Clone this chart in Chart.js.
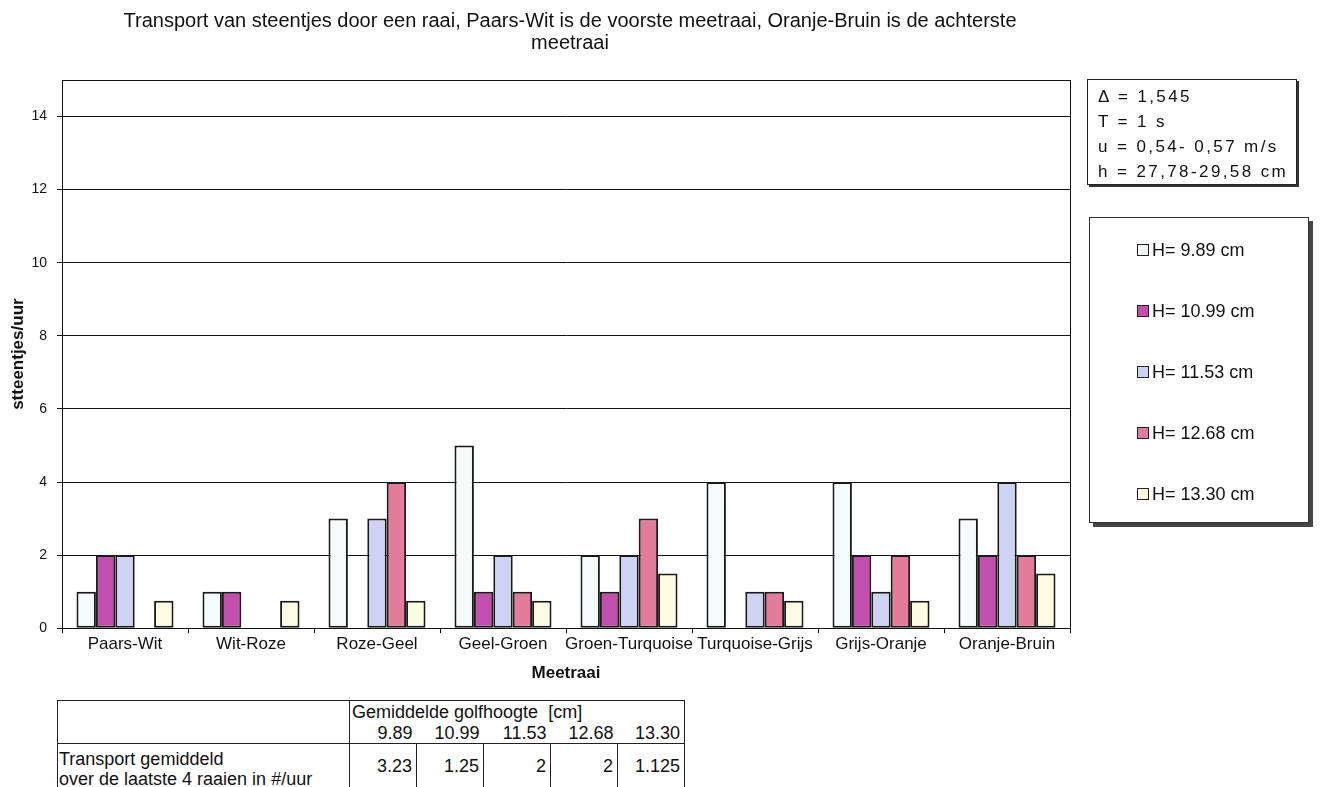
<!DOCTYPE html>
<html lang="nl">
<head>
<meta charset="utf-8">
<title>Transport van steentjes door een raai</title>
<script src="https://cdn.jsdelivr.net/npm/chart.js@4.4.1/dist/chart.umd.min.js"></script>
<style>
  html, body {
    margin: 0;
    padding: 0;
    background: #fff;
    width: 1320px;
    height: 787px;
    overflow: hidden;
    font-family: "Liberation Sans", Arial, sans-serif;
    color: #111;
  }
  #chartTitle {
    position: absolute;
    left: 0;
    top: 9px;
    width: 1140px;
    text-align: center;
    font-size: 20px;
    line-height: 22px;
  }
  #chartWrap {
    position: absolute;
    left: 0;
    top: 0;
    width: 1140px;
    height: 700px;
  }
  #infoBox {
    position: absolute;
    left: 1087px;
    top: 79px;
    width: 198px;
    height: 100px;
    padding: 4px 0 0 10px;
    border: 1px solid #222;
    box-shadow: 2px 2px 0 #333;
    font-size: 17px;
    line-height: 25px;
    letter-spacing: 2.4px;
    white-space: nowrap;
  }
  #legendBox {
    position: absolute;
    left: 1089px;
    top: 217px;
    width: 218px;
    height: 304px;
    border: 1px solid #333;
    box-shadow: 4px 4px 0 #444;
    background: #fff;
  }
  .legend-item {
    position: absolute;
    left: 47px;
    height: 20px;
    display: flex;
    align-items: center;
    font-size: 18px;
    white-space: nowrap;
  }
  .legend-swatch {
    width: 10px;
    height: 10px;
    border: 1.5px solid #222;
    margin-right: 3px;
  }
  #summary {
    position: absolute;
    left: 57px;
    top: 700px;
    border-collapse: collapse;
    font-size: 18px;
    table-layout: fixed;
  }
  #summary td {
    padding: 0 4px 0 2px;
    white-space: nowrap;
    line-height: 20px;
    overflow: hidden;
  }
  #summary .head-label { border: 1px solid #222; }
  #summary .head-title { border-top: 1px solid #222; border-right: 1px solid #222; height: 21px; text-align: left; vertical-align: bottom; }
  #summary .head-val { text-align: right; height: 21px; border-bottom: 1px solid #222; vertical-align: bottom; }
  #summary .head-val.last { border-right: 1px solid #222; }
  #summary .row-label { border: 1px solid #222; height: 45px; vertical-align: top; padding-top: 5px; padding-left: 1px; }
  #summary .row-val { border: 1px solid #222; text-align: right; vertical-align: top; padding-top: 12px; }
</style>
</head>
<body>
<div id="chartWrap"><canvas id="transportChart"></canvas></div>
<div id="chartTitle"></div>
<div id="infoBox"></div>
<div id="legendBox"></div>
<table id="summary"></table>

<script>
// Meetraaien (pairs of coloured markers), front to back
const meetraaien = ['Paars-Wit', 'Wit-Roze', 'Roze-Geel', 'Geel-Groen', 'Groen-Turquoise', 'Turquoise-Grijs', 'Grijs-Oranje', 'Oranje-Bruin'];

// Transport in stones per hour for each wave height (null = no stones counted)
const golf989 = [1, 1, 3, 5, 2, 4, 4, 3];
const golf1099 = [2, 1, null, 1, 1, null, 2, 2];
const golf1153 = [2, null, 3, 2, 2, 1, 1, 4];
const golf1268 = [null, null, 4, 1, 3, 1, 2, 2];
const golf1330 = [0.75, 0.75, 0.75, 0.75, 1.5, 0.75, 0.75, 1.5];

const seriesLabels = ['H= 9.89 cm', 'H= 10.99 cm', 'H= 11.53 cm', 'H= 12.68 cm', 'H= 13.30 cm'];
const seriesColors = ['#f4fbfb', '#c24fae', '#cfd3f3', '#e27c9a', '#fdfbe1'];

const yTicks = [0, 2, 4, 6, 8, 10, 12, 14];
const yMax = 15;

const titleLines = ['Transport van steentjes door een raai, Paars-Wit is de voorste meetraai, Oranje-Bruin is de achterste', 'meetraai'];

// Test conditions shown next to the chart
const conditions = ['\u0394 = 1,545', 'T = 1 s', 'u = 0,54- 0,57 m/s', 'h = 27,78-29,58 cm'];

// Summary table: mean transport over the last 4 meetraaien
const golfhoogtes = ['9.89', '10.99', '11.53', '12.68', '13.30'];
const transportGemiddeld = ['3.23', '1.25', '2', '2', '1.125'];

const FONT = '"Liberation Sans", Arial, sans-serif';

// Draws the box round the plot area
const plotFrame = {
  id: 'plotFrame',
  beforeDatasetsDraw(chart) {
    const { ctx, chartArea } = chart;
    ctx.save();
    ctx.strokeStyle = '#111';
    ctx.lineWidth = 1;
    ctx.strokeRect(Math.round(chartArea.left) + 0.5, Math.round(chartArea.top) + 0.5,
      Math.round(chartArea.right - chartArea.left), Math.round(chartArea.bottom - chartArea.top));
    ctx.restore();
  }
};

const seriesData = [golf989, golf1099, golf1153, golf1268, golf1330];

new Chart(document.getElementById('transportChart'), {
  type: 'bar',
  data: {
    labels: meetraaien,
    datasets: seriesData.map((values, i) => ({
      label: seriesLabels[i],
      data: values,
      backgroundColor: seriesColors[i],
      borderColor: '#1a1a1a',
      borderWidth: 2,
      borderSkipped: false,
      categoryPercentage: 0.77,
      barPercentage: 1.0
    }))
  },
  options: {
    responsive: true,
    maintainAspectRatio: false,
    animation: false,
    layout: {
      padding: { left: 4, right: 70, top: 80, bottom: 16 }
    },
    plugins: {
      legend: { display: false },
      tooltip: { enabled: false },
      title: { display: false }
    },
    scales: {
      x: {
        grid: {
          display: true,
          drawOnChartArea: false,
          color: '#111',
          tickLength: 5,
          offset: true
        },
        border: { display: true, color: '#111' },
        ticks: {
          color: '#111',
          font: { family: FONT, size: 17 },
          padding: 1,
          maxRotation: 0,
          autoSkip: false
        },
        title: {
          display: true,
          text: 'Meetraai',
          color: '#111',
          font: { family: FONT, size: 17, weight: 'bold' },
          padding: { top: 8, bottom: 0 }
        }
      },
      y: {
        min: 0,
        max: yMax,
        afterBuildTicks(axis) {
          axis.ticks = yTicks.map(v => ({ value: v }));
        },
        // fixed axis width so the plot starts where the labels end
        afterFit(axis) {
          axis.width = 58;
        },
        grid: {
          color: '#111',
          lineWidth: 1,
          tickLength: 5
        },
        border: { display: true, color: '#111' },
        ticks: {
          color: '#111',
          font: { family: FONT, size: 14 },
          padding: 10
        },
        title: {
          display: true,
          text: 'stteentjes/uur',
          color: '#111',
          font: { family: FONT, size: 17, weight: 'bold' },
          padding: { top: 4, bottom: 0 }
        }
      }
    }
  },
  plugins: [plotFrame]
});

document.getElementById('chartTitle').innerHTML = titleLines.join('<br>');

// Conditions box
document.getElementById('infoBox').innerHTML = conditions.map(c => `<div>${c}</div>`).join('');

// Legend, built from the same series labels and colours
document.getElementById('legendBox').innerHTML = seriesLabels.map((label, i) => `
  <div class="legend-item" style="top:${22 + i * 61}px">
    <span class="legend-swatch" style="background:${seriesColors[i]}"></span>${label}
  </div>
`).join('');

// Summary table below the chart
document.getElementById('summary').innerHTML = `
  <colgroup>
    <col style="width:292px">
    ${golfhoogtes.map(() => '<col style="width:67px">').join('')}
  </colgroup>
  <tr>
    <td class="head-label" rowspan="2"></td>
    <td class="head-title" colspan="5">Gemiddelde golfhoogte&nbsp; [cm]</td>
  </tr>
  <tr>
    ${golfhoogtes.map((h, i) => `<td class="head-val${i === golfhoogtes.length - 1 ? ' last' : ''}">${h}</td>`).join('')}
  </tr>
  <tr>
    <td class="row-label">Transport gemiddeld<br>over de laatste 4 raaien in #/uur</td>
    ${transportGemiddeld.map(v => `<td class="row-val">${v}</td>`).join('')}
  </tr>
`;
</script>
</body>
</html>
